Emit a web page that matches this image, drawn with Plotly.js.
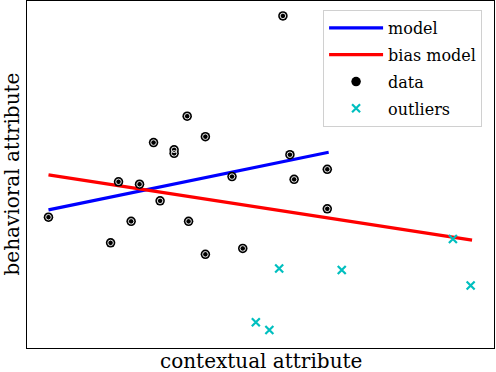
<!DOCTYPE html>
<html>
<head>
<meta charset="utf-8">
<script src="https://cdn.plot.ly/plotly-3.0.1.min.js"></script>
<style>
  html, body { margin: 0; padding: 0; background: #fff; }
  #wykres { width: 496px; height: 372px; }
</style>
</head>
<body>
<div id="wykres"></div>
<script>
// punkty (jednostki umowne, osie 0..10)
const daneX = [0.46, 1.79, 1.96, 2.23, 2.41, 2.71, 2.85, 3.15, 3.15, 3.43, 3.46, 3.82, 3.82, 4.39, 4.62, 5.48, 5.63, 5.72, 6.43, 6.43];
const daneY = [3.77, 3.03, 4.79, 3.65, 4.72, 5.92, 4.24, 5.71, 5.61, 6.68, 3.65, 6.09, 2.70, 4.94, 2.87, 9.57, 5.57, 4.86, 5.15, 4.01];

const odstX = [4.90, 5.19, 5.40, 6.74, 9.12, 9.50];
const odstY = [0.74, 0.52, 2.29, 2.25, 3.14, 1.80];

// końce prostych
const modelX = [0.46, 6.46];
const modelY = [3.98, 5.64];
const biasX = [0.46, 9.53];
const biasY = [4.99, 3.11];

const tytulX = 'contextual attribute';
const tytulY = 'behavioral attribute';

const FONT = 'DejaVu Serif, serif';

const slady = [
  { x: modelX, y: modelY, name: 'model', mode: 'lines', legendgroup: 'a',
    line: { color: '#0000ff', width: 3.2 } },
  { x: biasX, y: biasY, name: 'bias model', mode: 'lines', legendgroup: 'b',
    line: { color: '#ff0000', width: 3.2 } },
  { x: daneX, y: daneY, name: 'data', mode: 'markers', legendgroup: 'c',
    marker: { color: '#000', size: 9.5, symbol: 'circle', line: { width: 0 } } },
  // biały pierścień w kropkach
  { x: daneX, y: daneY, mode: 'markers', showlegend: false, hoverinfo: 'skip',
    marker: { color: '#fff', size: 5.5, symbol: 'circle-open', line: { color: '#fff', width: 0.9 } } },
  { x: odstX, y: odstY, name: 'outliers', mode: 'markers', legendgroup: 'd',
    marker: { color: '#00bfbf', size: 8, symbol: 'x-thin', line: { color: '#00bfbf', width: 2.2 } } },
];

const os = {
  range: [0, 10], showgrid: false, zeroline: false, showticklabels: false, ticks: '',
  showline: true, linecolor: '#000', linewidth: 1, mirror: true,
};

const uklad = {
  width: 496, height: 372,
  margin: { l: 27, r: 2, t: 1, b: 24 },
  paper_bgcolor: '#fff', plot_bgcolor: '#fff',
  font: { family: FONT, color: '#000' },
  xaxis: { ...os },
  yaxis: { ...os },
  annotations: [
    { text: tytulX, xref: 'paper', yref: 'paper', x: 0.5, y: 0, xanchor: 'center', yanchor: 'middle',
      yshift: -12.5, showarrow: false, font: { size: 20 } },
    { text: tytulY, xref: 'paper', yref: 'paper', x: 0, y: 0.5, xanchor: 'center', yanchor: 'middle',
      xshift: -16, textangle: -90, showarrow: false, font: { size: 20 } },
  ],
  showlegend: true,
  legend: {
    x: 0.634, y: 0.974, xanchor: 'left', yanchor: 'top',
    bgcolor: '#fff', bordercolor: '#d0d0d0', borderwidth: 1,
    font: { family: FONT, size: 16 }, tracegroupgap: 3, itemwidth: 54,
  },
};

Plotly.newPlot('wykres', slady, uklad, { staticPlot: true, displayModeBar: false });
</script>
</body>
</html>
